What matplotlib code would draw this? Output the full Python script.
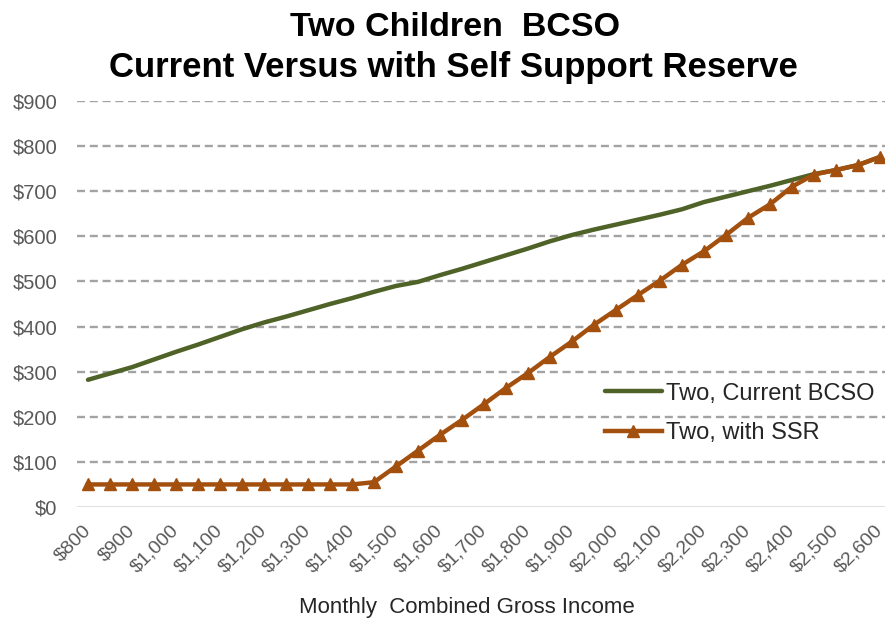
import matplotlib
matplotlib.use("Agg")
import matplotlib.pyplot as plt
from matplotlib.ticker import FuncFormatter

plt.rcParams['font.family'] = ['Liberation Sans', 'DejaVu Sans']
plt.rcParams['lines.scale_dashes'] = False

# Monthly combined gross income, in $50 steps
income = list(range(800, 2601, 50))

# Basic child support obligation, two children (current schedule)
current_bcso = [282, 296, 310, 327, 344, 360, 377, 394, 409, 422,
                436, 450, 463, 477, 490, 499, 514, 528, 543, 558,
                573, 589, 603, 615, 626, 637, 648, 660, 676, 688,
                700, 712, 725, 738, 747, 758, 776]

# Two children, with self support reserve
with_ssr = [50, 50, 50, 50, 50, 50, 50, 50, 50, 50,
            50, 50, 50, 55, 90, 125, 160, 193, 228, 264,
            297, 333, 367, 404, 437, 470, 502, 537, 567, 603,
            641, 671, 710, 737, 747, 758, 776]

x_ticks = list(range(800, 2601, 100))
y_ticks = list(range(0, 901, 100))

series_labels = ["Two, Current BCSO", "Two, with SSR"]
title_lines = ["Two Children  BCSO", "Current Versus with Self Support Reserve"]
x_label = "Monthly  Combined Gross Income"

GREEN = "#4f6228"
BROWN = "#a3500e"
TEXT = "#595959"

fig = plt.figure(figsize=(8.85, 6.22), dpi=100)
ax = fig.add_axes([77 / 885, 115 / 622, 814 / 885, 406 / 622])

ax.plot(income, current_bcso, color=GREEN, lw=3.2, solid_capstyle='round',
        label=series_labels[0], zorder=3)
ax.plot(income, with_ssr, color=BROWN, lw=3.2, marker='^', markersize=8.5,
        markeredgecolor=BROWN, label=series_labels[1], zorder=4)

ax.set_xlim(775, 2625)
ax.set_ylim(0, 900)
ax.set_xticks(x_ticks)
ax.set_yticks(y_ticks)
ax.xaxis.set_major_formatter(FuncFormatter(lambda v, p: "${:,.0f}".format(v)))
ax.yaxis.set_major_formatter(FuncFormatter(lambda v, p: "${:,.0f}".format(v)))

for s in ax.spines.values():
    s.set_visible(False)

# Dashed horizontal gridlines, solid baseline at zero
for v in y_ticks[1:]:
    ax.axhline(v, color="#a3a3a3", lw=1.7, dashes=(5.8, 3.4), zorder=1)
ax.axhline(0, color="#d9d9d9", lw=1.2, zorder=1)

ax.tick_params(axis='both', length=0, colors=TEXT)
ax.tick_params(axis='y', pad=14, labelsize=14.5)
ax.tick_params(axis='x', pad=15, labelsize=14)
for lab in ax.get_xticklabels():
    lab.set_rotation(45)
    lab.set_ha('right')
    lab.set_va('center')
    lab.set_rotation_mode('anchor')

fig.text(467 / 885, 1 - 607 / 622, x_label, ha='center', va='center',
         fontsize=16, color="#262626")

fig.text(455 / 885, 1 - 28 / 622, title_lines[0], ha='center', va='center',
         fontsize=24.5, fontweight='bold', color='black')
fig.text(453 / 885, 1 - 68 / 622, title_lines[1], ha='center', va='center',
         fontsize=25, fontweight='bold', color='black')

leg = ax.legend(loc='center left', bbox_to_anchor=(605 / 885, 1 - 413.5 / 622),
                bbox_transform=fig.transFigure, frameon=False, fontsize=17,
                handlelength=2.4, handletextpad=0.2, labelspacing=0.75,
                borderpad=0, borderaxespad=0)
for t in leg.get_texts():
    t.set_color("#262626")

fig.savefig("out.png", dpi=100, facecolor='white')
